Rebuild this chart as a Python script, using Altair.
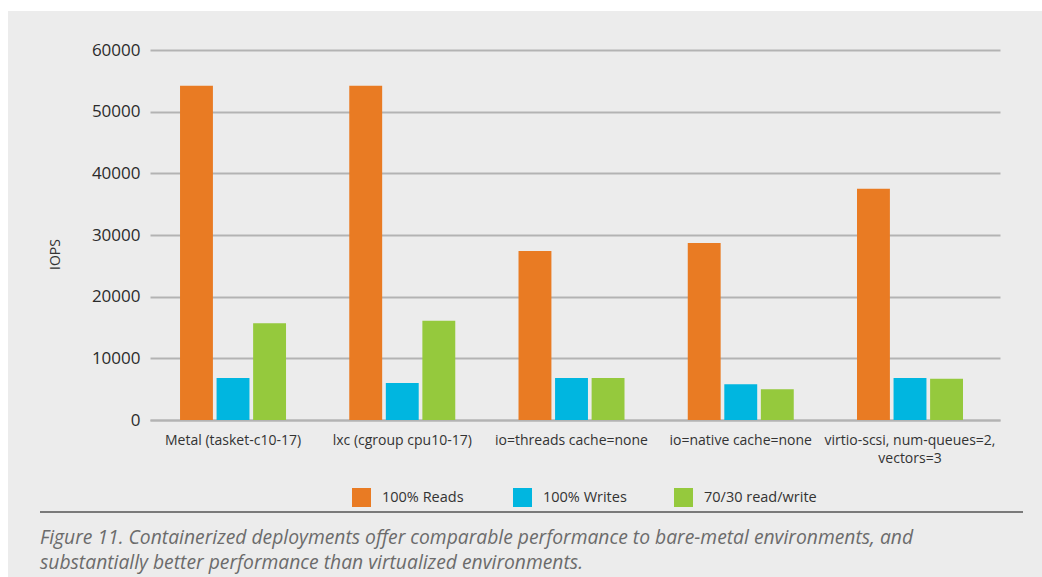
import altair as alt
import pandas as pd

categories = [
    "Metal (tasket-c10-17)",
    "lxc (cgroup cpu10-17)",
    "io=threads cache=none",
    "io=native cache=none",
    "virtio-scsi, num-queues=2,\nvectors=3",
]
series = ["100% Reads", "100% Writes", "70/30 read/write"]
reads = [54200, 54200, 27400, 28700, 37500]
writes = [6800, 6000, 6800, 5800, 6800]
mixed = [15700, 16100, 6800, 5000, 6700]
colors = ["#E97B23", "#00B6E0", "#95C93D"]
y_ticks = [0, 10000, 20000, 30000, 40000, 50000, 60000]
caption = ("Figure 11. Containerized deployments offer comparable performance to bare-metal environments, and\n"
           "substantially better performance than virtualized environments.")

rows = []
for vals, s in zip([reads, writes, mixed], series):
    for c, v in zip(categories, vals):
        rows.append({"config": c, "series": s, "iops": v})
df = pd.DataFrame(rows)

FONT = "Open Sans"
W, H = 850, 370
PL, PT = 150, 50

top_strip = alt.Chart(pd.DataFrame({"k": [0]})).mark_rect(color="white").encode(
    x=alt.value(0 - PL), x2=alt.value(1042 - PL),
    y=alt.value(0 - PT), y2=alt.value(11 - PT),
)
left_strip = alt.Chart(pd.DataFrame({"k": [0]})).mark_rect(color="white").encode(
    x=alt.value(0 - PL), x2=alt.value(8 - PL),
    y=alt.value(0 - PT), y2=alt.value(577 - PT),
)

sep = alt.Chart(pd.DataFrame({"k": [0]})).mark_rule(color="#555555", strokeWidth=1.3).encode(
    x=alt.value(40 - PL), x2=alt.value(1023 - PL), y=alt.value(512 - PT),
)

cap = alt.Chart(pd.DataFrame({"caption": [caption]})).mark_text(
    align="left", baseline="middle", font=FONT, fontStyle="italic", fontSize=19.3,
    color="#6b6b6b", lineBreak="\n", lineHeight=25,
).encode(
    x=alt.value(40 - PL), y=alt.value(538 - PT), text="caption:N",
)

bars = alt.Chart(df).mark_bar().encode(
    x=alt.X("config:N", sort=categories,
            scale=alt.Scale(paddingInner=0.3737, paddingOuter=0.198, align=0.448),
            axis=alt.Axis(title=None, labelAngle=0, labelFont=FONT, labelFontSize=14,
                          labelColor="#333333", labelPadding=13, ticks=False,
                          domainColor="#b3b3b3", domainWidth=2, labelLineHeight=18,
                          labelExpr="split(datum.value, '\\n')")),
    xOffset=alt.XOffset("series:N", sort=series,
                        scale=alt.Scale(paddingInner=0.1, paddingOuter=0)),
    y=alt.Y("iops:Q", scale=alt.Scale(domain=[0, 60000], nice=False),
            axis=alt.Axis(title="IOPS", values=y_ticks, format="d", labelFont=FONT,
                          labelFontSize=17, labelColor="#2b2b2b", labelPadding=10,
                          ticks=False, domain=False, gridColor="#b3b3b3", gridWidth=2,
                          titleFont=FONT, titleFontSize=14, titleFontWeight="normal",
                          titleColor="#333333", titleAngle=270, titleX=-95, titleY=204,
                          titleAlign="center", titleBaseline="middle")),
    color=alt.Color("series:N", sort=series,
                    scale=alt.Scale(domain=series, range=colors),
                    legend=alt.Legend(title=None, orient="none", legendX=202, legendY=438,
                                      direction="horizontal", columns=3, gridAlign="all",
                                      symbolType="square", symbolSize=361,
                                      symbolStrokeWidth=0, symbolOpacity=1,
                                      labelFont=FONT, labelFontSize=14.5,
                                      labelColor="#333333", labelOffset=11,
                                      columnPadding=18, padding=0)),
)

chart = alt.layer(top_strip, left_strip, sep, cap, bars).properties(
    width=W, height=H,
    autosize=alt.AutoSizeParams(type="none"),
    padding={"left": PL, "top": PT, "right": 1042 - PL - W, "bottom": 577 - PT - H},
    background="#ececec",
).configure_view(stroke=None)

chart.save("out.html", embed_options={"renderer": "svg", "actions": False})
